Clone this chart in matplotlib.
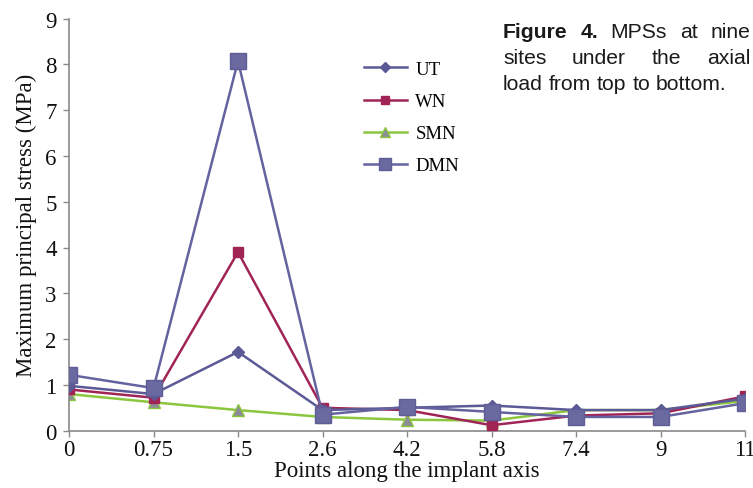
import matplotlib
matplotlib.use('Agg')
import matplotlib.pyplot as plt
import numpy as np

# stress values at the nine measuring points
points = ['0', '0.75', '1.5', '2.6', '4.2', '5.8', '7.4', '9', '11']
ut = [0.98, 0.80, 1.72, 0.45, 0.50, 0.55, 0.45, 0.45, 0.70]
wn = [0.90, 0.72, 3.90, 0.50, 0.45, 0.12, 0.33, 0.38, 0.75]
smn = [0.80, 0.62, 0.45, 0.30, 0.24, 0.22, 0.45, 0.45, 0.65]
dmn = [1.22, 0.93, 8.07, 0.35, 0.52, 0.41, 0.30, 0.30, 0.60]

serif = ['Liberation Serif', 'DejaVu Serif']
sans = ['Liberation Sans', 'DejaVu Sans']

fig = plt.figure(figsize=(7.53, 4.89), dpi=100)
ax = fig.add_axes([69 / 753, 1 - 431.7 / 489, (745 - 69) / 753, (431.7 - 19.5) / 489])

x = np.arange(len(points))
ax.plot(x, smn, '-^', color='#8cc63f', mfc='#8c8c96', mec='#8cc63f', ms=9, lw=1.8, label='SMN', zorder=2)
ax.plot(x, wn, '-s', color='#a02556', mfc='#a02556', mec='#a02556', ms=7, lw=1.8, label='WN', zorder=3)
ax.plot(x, ut, '-D', color='#5b5a96', mfc='#5b5a96', mec='#5b5a96', ms=6.5, lw=1.8, label='UT', zorder=4)
ax.plot(x, dmn, '-s', color='#6463a0', mfc='#6a69a0', mec='#5e5d96', ms=11.5, lw=1.8, label='DMN', zorder=5)

ax.set_xlim(0, len(points) - 1)
ax.set_ylim(0, 9)
ax.set_xticks(x)
ax.set_xticklabels(points)
ax.set_yticks(range(10))
for s in ['top', 'right']:
    ax.spines[s].set_visible(False)
for s in ['left', 'bottom']:
    ax.spines[s].set_color('#8a8a8a')
    ax.spines[s].set_linewidth(1.2)
ax.tick_params(axis='both', colors='#8a8a8a', length=4, width=1.0, labelcolor='#111111',
               labelsize=16.5)
ax.tick_params(axis='x', pad=2)
ax.tick_params(axis='y', pad=5)
for lbl in ax.get_xticklabels() + ax.get_yticklabels():
    lbl.set_family(serif)
ax.set_xlabel('Points along the implant axis', family=serif, fontsize=16.5, labelpad=0, color='#111111')
ax.set_ylabel('Maximum principal stress (MPa)', family=serif, fontsize=16.5, labelpad=6, color='#111111')

handles, labels = ax.get_legend_handles_labels()
order = [2, 1, 0, 3]
leg = ax.legend([handles[i] for i in order], [labels[i] for i in order],
                loc='upper left', bbox_to_anchor=(347 / 753, 1 - 45 / 489),
                bbox_transform=fig.transFigure, frameon=False,
                prop={'family': serif, 'size': 13.5}, labelspacing=0.8,
                handlelength=2.3, handletextpad=0.45)
for h in leg.legend_handles:
    h.set_markersize(h.get_markersize() * 0.75)

# justified caption in the top right corner
renderer = fig.canvas.get_renderer()
caption = [
    [('Figure', 'bold'), ('4.', 'bold'), ('MPSs', 'normal'), ('at', 'normal'), ('nine', 'normal')],
    [('sites', 'normal'), ('under', 'normal'), ('the', 'normal'), ('axial', 'normal')],
    [('load', 'normal'), ('from', 'normal'), ('top', 'normal'), ('to', 'normal'), ('bottom.', 'normal')],
]
left, right = 503, 750
tops = [33, 59, 85]
cap_size = 15.2
for row, (words, ypix) in enumerate(zip(caption, tops)):
    texts = [fig.text(0, 1 - ypix / 489, w, family=sans, weight=wt, fontsize=cap_size,
                      color='#1a1a1a', va='center', ha='left') for w, wt in words]
    widths = [t.get_window_extent(renderer).width for t in texts]
    if row < len(caption) - 1:
        gap = (right - left - sum(widths)) / (len(texts) - 1)
    else:
        space = fig.text(0, 0, 'a a', family=sans, fontsize=cap_size)
        aa = fig.text(0, 0, 'aa', family=sans, fontsize=cap_size)
        gap = space.get_window_extent(renderer).width - aa.get_window_extent(renderer).width
        space.remove()
        aa.remove()
    pos = left
    for t, w in zip(texts, widths):
        t.set_x(pos / 753)
        pos += w + gap

fig.savefig('out.png', dpi=100)
